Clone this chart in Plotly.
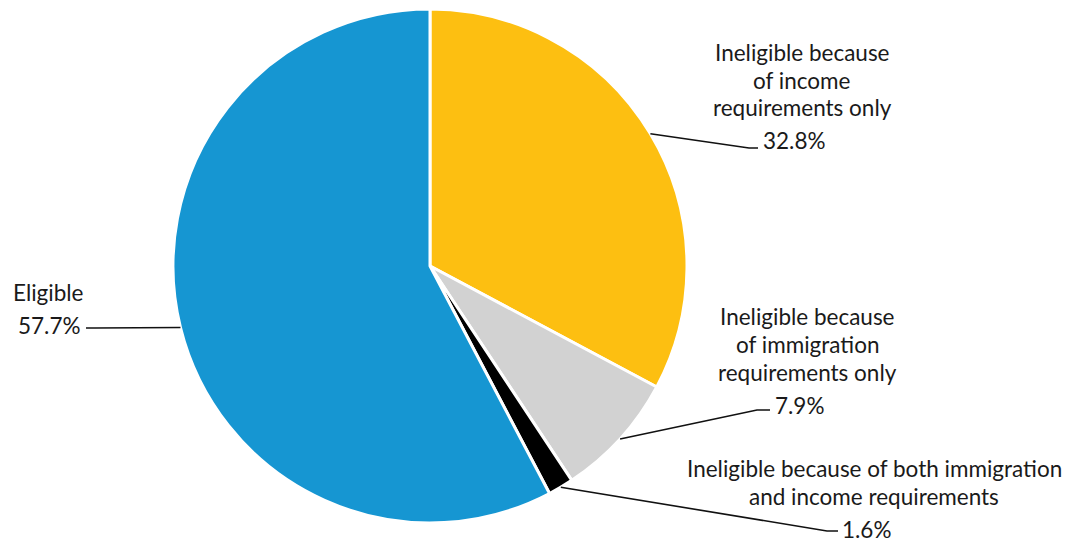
import math
import plotly.graph_objects as go

# ---- data ----
categories = [
    "Ineligible because of income requirements only",
    "Ineligible because of immigration requirements only",
    "Ineligible because of both immigration and income requirements",
    "Eligible",
]
values = [32.8, 7.9, 1.6, 57.7]
pct_labels = ["32.8%", "7.9%", "1.6%", "57.7%"]
name_lines = [
    ["Ineligible because", "of income", "requirements only"],
    ["Ineligible because", "of immigration", "requirements only"],
    ["Ineligible because of both immigration", "and income requirements"],
    ["Eligible"],
]
colors = ["#fdbf11", "#d2d2d2", "#000000", "#1696d2"]

# ---- layout (pixels) ----
W, H = 1072, 546
CX, CY, R = 430, 266, 257
FONT = "Lato"
FS = 22.5
TXT = "#1a1a1a"
LINE_H = 28

# per slice: elbow point, end point, pct anchor side, pct x, pct y, name center x, first name line y
label_layout = [
    dict(elbow=(749, 148), end=(758, 148), side="left", px=761, py=141, nx=802, ny=52),
    dict(elbow=(757, 410), end=(770, 410), side="left", px=773, py=405, nx=807, ny=316),
    dict(elbow=(827, 531), end=(838, 531), side="left", px=840, py=529, nx=874, ny=468),
    dict(elbow=(95, 328), end=(86, 328), side="right", px=83, py=325, nx=48, ny=292),
]


def px(x):
    return x / W


def py(y):
    return 1 - y / H


fig = go.Figure(
    go.Pie(
        labels=categories,
        values=values,
        sort=False,
        direction="clockwise",
        rotation=0,
        marker=dict(colors=colors, line=dict(color="white", width=3)),
        textinfo="none",
        hoverinfo="label+percent",
        showlegend=False,
        domain=dict(x=[px(CX - R), px(CX + R)], y=[py(CY + R), py(CY - R)]),
    )
)

shapes = []
annotations = []
total = sum(values)
cum = 0.0
for v, pct, lines, lay in zip(values, pct_labels, name_lines, label_layout):
    theta = 2 * math.pi * (cum + v / 2) / total
    cum += v
    sx = CX + R * math.sin(theta)
    sy = CY - R * math.cos(theta)
    ex, ey = lay["elbow"]
    tx, ty = lay["end"]
    shapes.append(
        dict(
            type="path",
            xref="paper",
            yref="paper",
            path=f"M {px(sx)},{py(sy)} L {px(ex)},{py(ey)} L {px(tx)},{py(ty)}",
            line=dict(color="#111111", width=1.6),
        )
    )
    annotations.append(
        dict(
            x=px(lay["px"]),
            y=py(lay["py"]),
            xref="paper",
            yref="paper",
            text=pct,
            showarrow=False,
            xanchor=lay["side"],
            yanchor="middle",
            font=dict(family=FONT, size=FS, color=TXT),
        )
    )
    for i, ln in enumerate(lines):
        annotations.append(
            dict(
                x=px(lay["nx"]),
                y=py(lay["ny"] + i * LINE_H),
                xref="paper",
                yref="paper",
                text=ln,
                showarrow=False,
                xanchor="center",
                yanchor="middle",
                font=dict(family=FONT, size=FS, color=TXT),
            )
        )

fig.update_layout(
    width=W,
    height=H,
    margin=dict(l=0, r=0, t=0, b=0),
    paper_bgcolor="white",
    plot_bgcolor="white",
    shapes=shapes,
    annotations=annotations,
    font=dict(family=FONT, size=FS, color=TXT),
)

fig.write_html(
    "out.html",
    config={"displayModeBar": False},
    post_script="document.body.style.margin='0';",
)
